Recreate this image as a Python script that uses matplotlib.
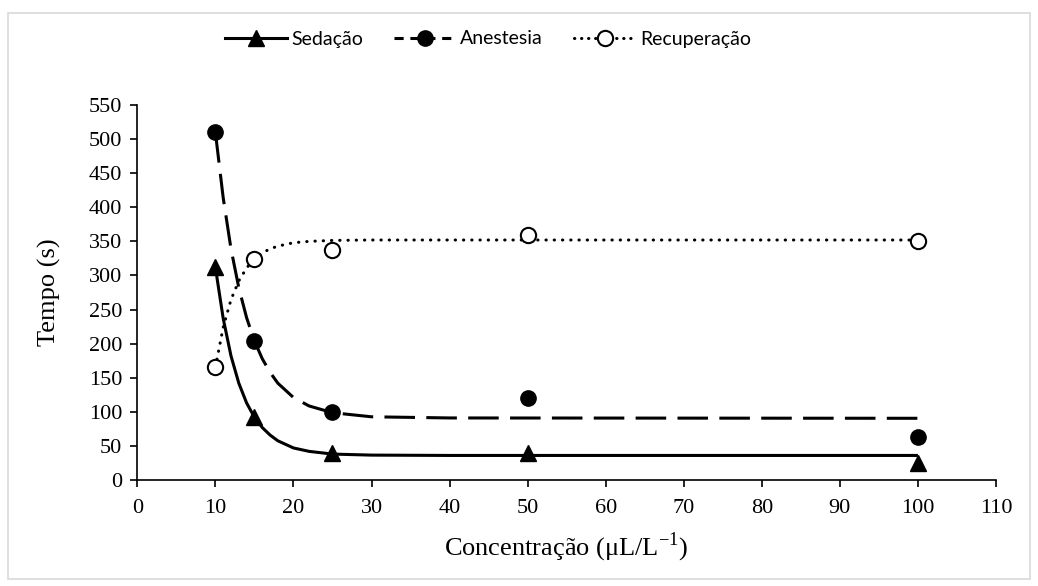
import matplotlib
matplotlib.use("Agg")
import matplotlib.pyplot as plt
from matplotlib.lines import Line2D
from matplotlib.patches import Rectangle

plt.rcParams['mathtext.fontset'] = 'custom'
plt.rcParams['mathtext.rm'] = 'Liberation Serif'

# measured points
conc = [10, 15, 25, 50, 100]
sedacao = [312, 92, 40, 40, 25]
anestesia = [510, 204, 99, 120, 63]
recuperacao = [165, 324, 337, 359, 351]

# fitted curves
curve_x = [10, 11, 12, 13, 14, 15, 16, 17, 18, 20, 22, 25, 30, 40, 100]
sedacao_fit = [312, 237, 182, 142, 113, 92, 77, 66, 57.5, 47, 42, 38, 36.5, 36, 36]
anestesia_fit = [510, 414, 339, 282, 238, 204, 178, 158, 142, 121, 108.6, 98.7, 92.7, 91, 90.5]
recuperacao_fit = [165, 224, 264.5, 292, 311, 324, 333, 339, 343, 348, 350, 351.4, 352, 352, 352]

xticks = list(range(0, 111, 10))
yticks = list(range(0, 551, 50))

fig = plt.figure(figsize=(10.38, 5.86), dpi=100)
ax = fig.add_axes([0.1323, 0.1809, 0.9595 - 0.1323, 0.8208 - 0.1809])

lw = 2.2
ax.plot(curve_x, sedacao_fit, color='black', lw=lw, solid_capstyle='butt')
ax.plot(curve_x, anestesia_fit, color='black', lw=lw, dashes=(10, 3.7), dash_capstyle='butt')
ax.plot(curve_x, recuperacao_fit, color='black', lw=lw, dashes=(0.1, 2.6), dash_capstyle='round')

ax.plot(conc, sedacao, ls='none', marker='^', ms=11, color='black', clip_on=False)
ax.plot(conc, anestesia, ls='none', marker='o', ms=11, color='black', clip_on=False)
ax.plot(conc, recuperacao, ls='none', marker='o', ms=11, mfc='white', mec='black', mew=1.5, clip_on=False)

ax.set_xlim(0, 110)
ax.set_ylim(0, 550)
ax.set_xticks(xticks)
ax.set_yticks(yticks)
ax.spines['top'].set_visible(False)
ax.spines['right'].set_visible(False)
for s in ['left', 'bottom']:
    ax.spines[s].set_linewidth(1.2)
ax.tick_params(direction='out', length=5, width=1.2, labelsize=16, pad=6)
ax.tick_params(axis='x', pad=9)
for lab in ax.get_xticklabels() + ax.get_yticklabels():
    lab.set_fontfamily('Liberation Serif')

ax.set_ylabel('Tempo (s)', fontsize=19, family='Liberation Serif', labelpad=20)
ax.set_xlabel(r'Concentração (μL/L$^{\mathregular{-1}}$)', fontsize=19,
              family='Liberation Serif', labelpad=9)

handles = [
    Line2D([], [], color='black', lw=lw, marker='^', ms=11),
    Line2D([], [], color='black', lw=lw, dashes=(3, 2.2), marker='o', ms=11),
    Line2D([], [], color='black', lw=lw, dashes=(0.1, 2.2), dash_capstyle='round',
           marker='o', ms=11, mfc='white', mew=1.5),
]
fig.legend(handles, ['Sedação', 'Anestesia', 'Recuperação'], loc='center',
           bbox_to_anchor=(0.47, 1 - 39 / 586), ncol=3, frameon=False,
           prop={'family': 'Lato', 'size': 14}, handlelength=3.2,
           columnspacing=1.6, handletextpad=0.2)

fig.add_artist(Rectangle((8 / 1038, 1 - 579 / 586), (1030 - 8) / 1038, (579 - 13) / 586,
                         transform=fig.transFigure, fill=False, ec='#d9d9d9', lw=1.2))

fig.savefig('out.png', dpi=100)
